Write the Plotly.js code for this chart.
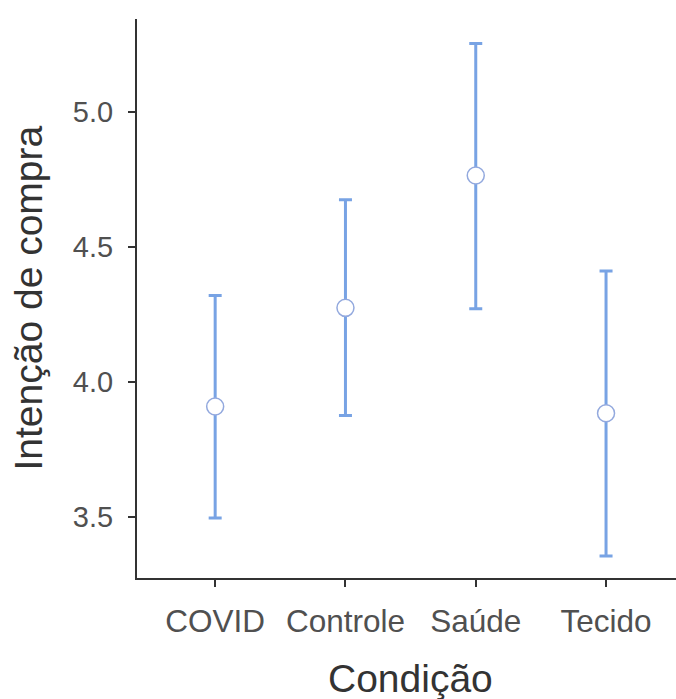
<!DOCTYPE html>
<html>
<head>
<meta charset="utf-8">
<script src="https://cdn.plot.ly/plotly-3.0.1.min.js"></script>
<style>html,body{margin:0;padding:0;background:#fff;overflow:hidden;}</style>
</head>
<body>
<div id="chart" style="width:676px;height:699px;"></div>
<script>
const categories = ["COVID", "Controle", "Saúde", "Tecido"];
const means = [3.909, 4.274, 4.764, 3.884];
const upper = [4.320, 4.674, 5.252, 4.410];
const lower = [3.496, 3.876, 4.271, 3.356];
const yTickVals = [3.5, 4.0, 4.5, 5.0];
const yTickText = ["3.5", "4.0", "4.5", "5.0"];
const xTitle = "Condição";
const yTitle = "Intenção de compra";

const errPlus = upper.map((u, i) => u - means[i]);
const errMinus = means.map((m, i) => m - lower[i]);

const blue = "#78a3e4";
const trace = {
  type: "scatter",
  mode: "markers",
  x: categories,
  y: means,
  error_y: {
    type: "data", symmetric: false,
    array: errPlus, arrayminus: errMinus,
    color: blue, thickness: 3, width: 6.5
  },
  marker: {
    symbol: "circle", size: 17, color: "#ffffff",
    line: { color: "#93a9de", width: 1.5 }
  },
  hoverinfo: "skip",
  showlegend: false
};

const fontFam = "Liberation Sans, Arial, sans-serif";
const layout = {
  width: 676, height: 699,
  margin: { l: 137, r: 0, t: 19, b: 121, pad: 0 },
  paper_bgcolor: "#ffffff", plot_bgcolor: "#ffffff",
  font: { family: fontFam, color: "#4d4d4d" },
  xaxis: {
    type: "category",
    range: [-0.6, 3.537],
    showgrid: false, zeroline: false,
    showline: true, linecolor: "#333333", linewidth: 2,
    ticks: "outside", ticklen: 7, tickwidth: 2, tickcolor: "#333333",
    tickfont: { size: 31.5, color: "#505050", family: fontFam },
    ticklabelstandoff: 7
  },
  yaxis: {
    range: [3.2742, 5.343],
    tickvals: yTickVals, ticktext: yTickText,
    showgrid: false, zeroline: false,
    showline: true, linecolor: "#333333", linewidth: 2,
    ticks: "outside", ticklen: 7, tickwidth: 2, tickcolor: "#333333",
    tickfont: { size: 29, color: "#505050", family: fontFam },
    ticklabelstandoff: 9
  },
  annotations: [
    {
      text: xTitle, xref: "x", yref: "paper", x: 1.5, y: -0.1798,
      xanchor: "center", yanchor: "middle", showarrow: false,
      font: { size: 39, color: "#333333", family: fontFam }
    },
    {
      text: yTitle, xref: "paper", yref: "paper", x: -0.2022, y: 0.5,
      xanchor: "center", yanchor: "middle", showarrow: false, textangle: -90,
      font: { size: 39, color: "#333333", family: fontFam }
    }
  ]
};

Plotly.newPlot("chart", [trace], layout, { displayModeBar: false, staticPlot: true });
</script>
</body>
</html>
